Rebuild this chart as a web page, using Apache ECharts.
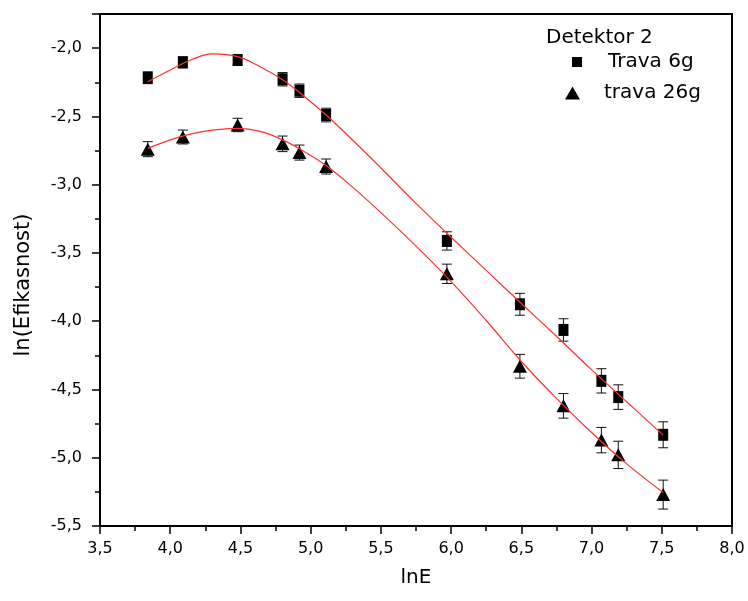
<!DOCTYPE html>
<html>
<head>
<meta charset="utf-8">
<script src="https://cdn.jsdelivr.net/npm/echarts@6/dist/echarts.min.js"></script>
<style>
html,body{margin:0;padding:0;background:#fff;}
#chart{width:748px;height:601px;}
</style>
</head>
<body>
<div id="chart"></div>
<script>
// ---- data ----
const xTickLabels = ['3,5','4,0','4,5','5,0','5,5','6,0','6,5','7,0','7,5','8,0'];
const yTickLabels = ['-5,5','-5,0','-4,5','-4,0','-3,5','-3,0','-2,5','-2,0'];

const lnE = [3.84, 4.09, 4.48, 4.80, 4.92, 5.11, 5.97, 6.49, 6.80, 7.07, 7.19, 7.51];
const trava6 = [-2.217, -2.104, -2.087, -2.228, -2.312, -2.49, -3.412, -3.876, -4.064, -4.437, -4.556, -4.832];
const trava6Err = [0.043, 0.040, 0.035, 0.049, 0.049, 0.050, 0.067, 0.080, 0.082, 0.089, 0.090, 0.095];
const trava26 = [-2.74, -2.651, -2.563, -2.701, -2.765, -2.867, -3.653, -4.33, -4.62, -4.871, -4.979, -5.27];
const trava26Err = [0.055, 0.051, 0.049, 0.057, 0.055, 0.055, 0.071, 0.087, 0.090, 0.093, 0.100, 0.106];

const fitX  = [3.84, 4.0, 4.15, 4.3, 4.48, 4.64, 4.8, 4.95, 5.11, 5.3, 5.5, 5.75, 6.0, 6.25, 6.5, 6.75, 7.0, 7.25, 7.51];
const fit6  = [-2.246, -2.16, -2.085, -2.042, -2.062, -2.136, -2.232, -2.35, -2.49, -2.675, -2.878, -3.137, -3.385, -3.628, -3.87, -4.11, -4.355, -4.59, -4.834];
const fit26 = [-2.734, -2.672, -2.628, -2.600, -2.588, -2.610, -2.672, -2.755, -2.86, -3.02, -3.205, -3.45, -3.71, -3.995, -4.295, -4.565, -4.815, -5.045, -5.255];

const FONT = 'DejaVu Sans';

function pairs(xs, ys){ return xs.map((x,i)=>[x, ys[i]]); }
function errData(xs, ys, es){ return xs.map((x,i)=>[x, ys[i]-es[i], ys[i]+es[i]]); }

function errRender(params, api){
  const x = api.value(0), lo = api.value(1), hi = api.value(2);
  const pt = api.coord([x, hi]), pb = api.coord([x, lo]);
  const w = 5;
  const st = {stroke:'#111', lineWidth:1};
  return {type:'group', children:[
    {type:'line', shape:{x1:pt[0], y1:pt[1], x2:pb[0], y2:pb[1]}, style:st},
    {type:'line', shape:{x1:pt[0]-w, y1:pt[1], x2:pt[0]+w, y2:pt[1]}, style:st},
    {type:'line', shape:{x1:pb[0]-w, y1:pb[1], x2:pb[0]+w, y2:pb[1]}, style:st}
  ]};
}

const chart = echarts.init(document.getElementById('chart'), null, {renderer:'canvas'});

const option = {
  animation:false,
  backgroundColor:'#fff',
  title:{
    text:'Detektor 2', left:546, top:28, padding:0,
    textStyle:{fontFamily:FONT, fontSize:20, fontWeight:'normal', color:'#000'}
  },
  legend:[
    {data:[{name:'Trava 6g', icon:'rect'}], left:572, top:52, padding:0,
     itemWidth:10, itemHeight:10, selectedMode:false,
     textStyle:{fontFamily:FONT, fontSize:20, color:'#000', padding:[0,0,0,21]}},
    {data:[{name:'trava 26g', icon:'triangle'}], left:565, top:83, padding:0,
     itemWidth:15, itemHeight:13, selectedMode:false,
     textStyle:{fontFamily:FONT, fontSize:20, color:'#000', padding:[0,0,0,19]}}
  ],
  grid:{left:100, right:16, top:14, bottom:75, show:true, borderColor:'#000', borderWidth:2, containLabel:false},
  xAxis:{
    type:'value', min:3.5, max:8.0, interval:0.5,
    name:'lnE', nameLocation:'middle', nameGap:42,
    nameTextStyle:{fontFamily:FONT, fontSize:20, color:'#000'},
    axisLine:{show:true, onZero:false, lineStyle:{color:'#000', width:2}},
    axisTick:{show:true, inside:false, length:8, lineStyle:{color:'#000', width:1.5}},
    minorTick:{show:true, splitNumber:2, length:5, lineStyle:{color:'#000', width:1.5}},
    splitLine:{show:false},
    axisLabel:{fontFamily:FONT, fontSize:16, color:'#000', margin:15,
      formatter:(v)=>xTickLabels[Math.round((v-3.5)/0.5)]}
  },
  yAxis:{
    type:'value', min:-5.5, max:-1.75, interval:0.5,
    name:'ln(Efikasnost)', nameLocation:'middle', nameGap:66, nameRotate:90,
    nameTextStyle:{fontFamily:FONT, fontSize:21, color:'#000', padding:[0,30,0,0]},
    axisLine:{show:true, onZero:false, lineStyle:{color:'#000', width:2}},
    axisTick:{show:true, inside:false, length:8, lineStyle:{color:'#000', width:1.5}},
    minorTick:{show:true, splitNumber:2, length:5, lineStyle:{color:'#000', width:1.5}},
    splitLine:{show:false},
    axisLabel:{fontFamily:FONT, fontSize:16, color:'#000', margin:18,
      formatter:(v)=>{ const i=Math.round((v+5.5)/0.5); return yTickLabels[i] !== undefined ? yTickLabels[i] : ''; }}
  },
  series:[
    {name:'err6', type:'custom', renderItem:errRender, data:errData(lnE, trava6, trava6Err), z:2, silent:true},
    {name:'err26', type:'custom', renderItem:errRender, data:errData(lnE, trava26, trava26Err), z:2, silent:true},
    {name:'Trava 6g', type:'scatter', symbol:'rect', symbolSize:[10,12],
     itemStyle:{color:'#000', opacity:1}, data:pairs(lnE, trava6), z:3},
    {name:'trava 26g', type:'scatter', symbol:'triangle', symbolSize:[14,13],
     itemStyle:{color:'#000', opacity:1}, data:pairs(lnE, trava26), z:3},
    {name:'fit6', type:'line', smooth:0.4, showSymbol:false, symbol:'none',
     lineStyle:{color:'#ff3030', width:1.2}, data:pairs(fitX, fit6), z:5, silent:true},
    {name:'fit26', type:'line', smooth:0.4, showSymbol:false, symbol:'none',
     lineStyle:{color:'#ff3030', width:1.2}, data:pairs(fitX, fit26), z:5, silent:true}
  ]
};
chart.setOption(option);
</script>
</body>
</html>
